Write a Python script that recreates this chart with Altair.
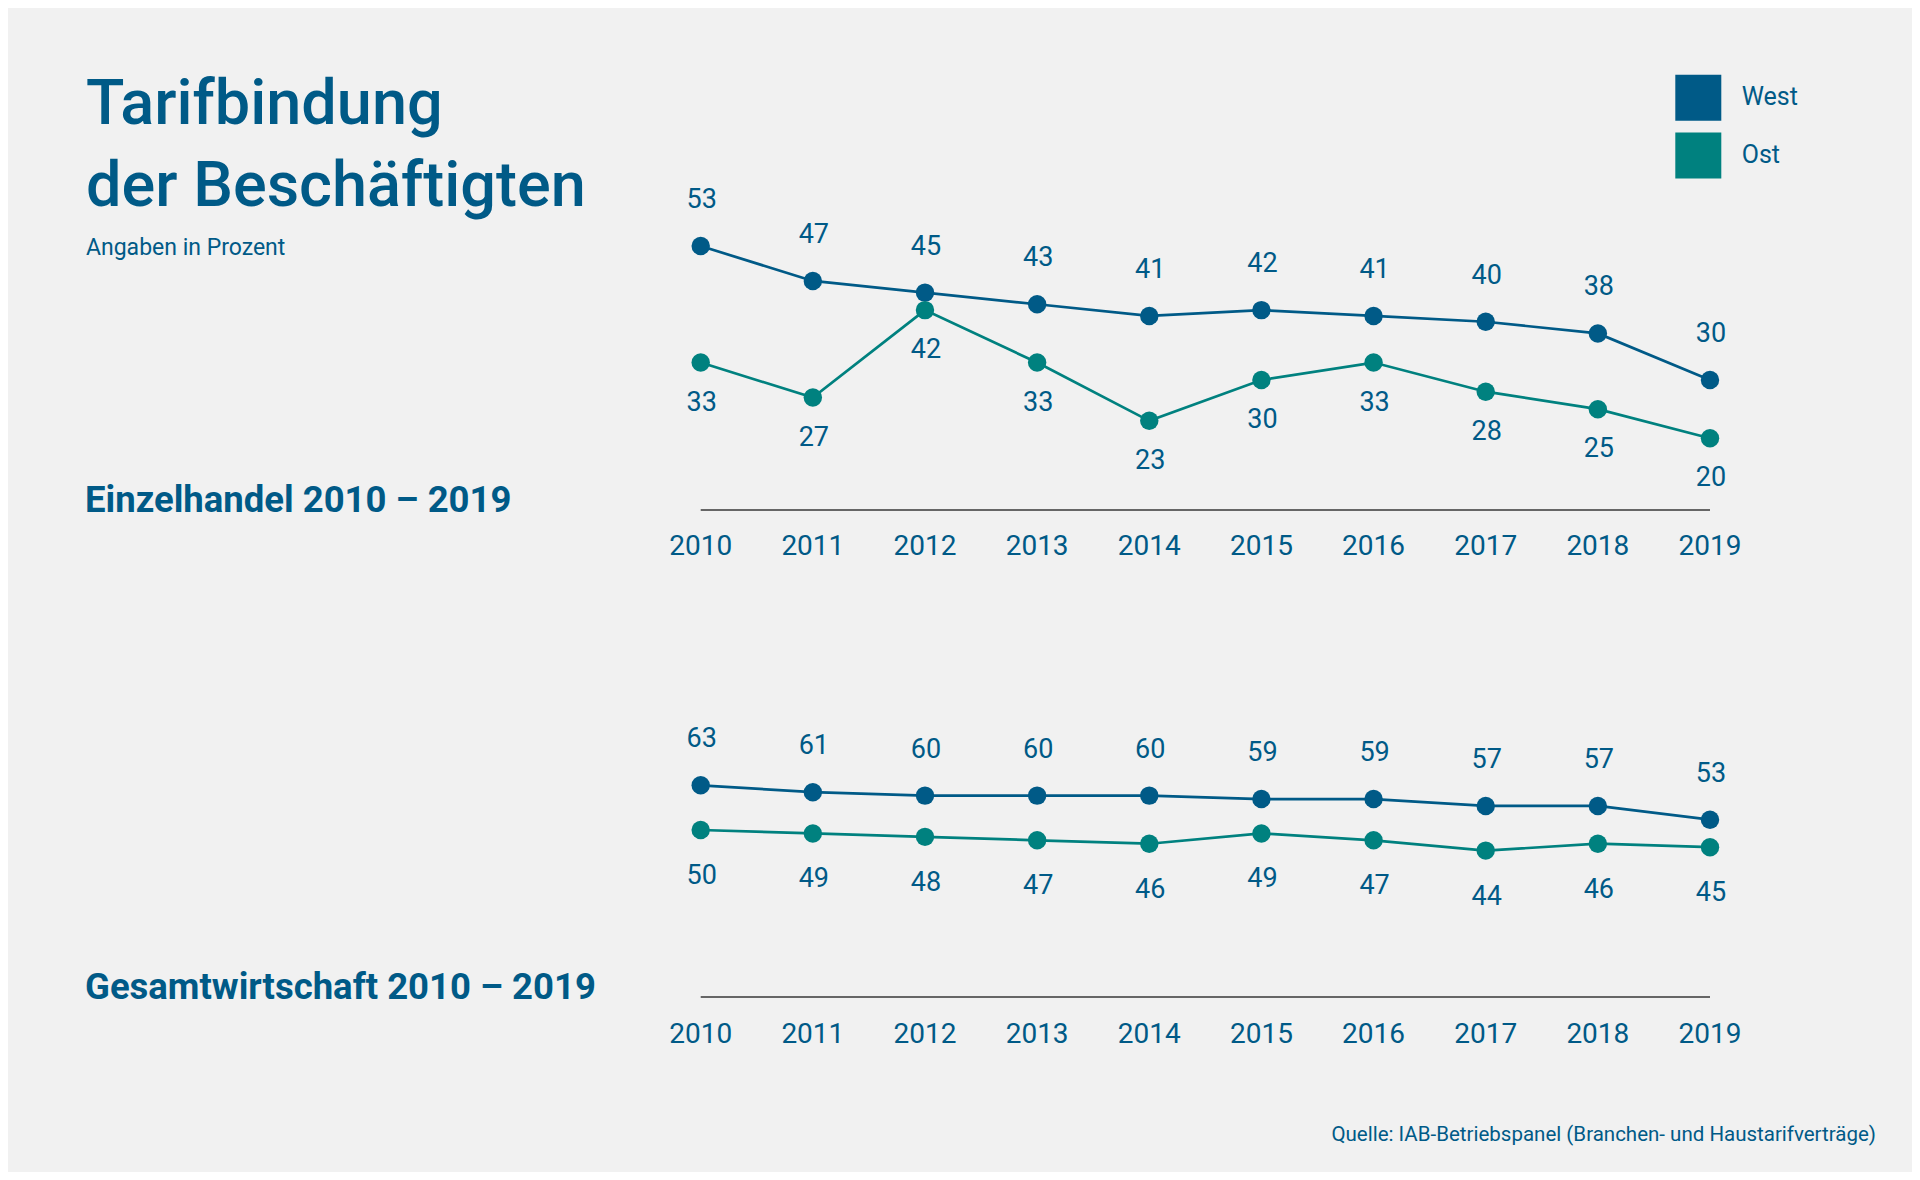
import altair as alt
import pandas as pd

# ---------------- data ----------------
years = [2010, 2011, 2012, 2013, 2014, 2015, 2016, 2017, 2018, 2019]
series_names = ["West", "Ost"]
einzel_west = [53, 47, 45, 43, 41, 42, 41, 40, 38, 30]
einzel_ost = [33, 27, 42, 33, 23, 30, 33, 28, 25, 20]
gesamt_west = [63, 61, 60, 60, 60, 59, 59, 57, 57, 53]
gesamt_ost = [50, 49, 48, 47, 46, 49, 47, 44, 46, 45]

title_text = "Tarifbindung\nder Beschäftigten"
subtitle_text = "Angaben in Prozent"
panel_labels = ["Einzelhandel 2010 – 2019", "Gesamtwirtschaft 2010 – 2019"]
source_text = "Quelle: IAB-Betriebspanel (Branchen- und Haustarifverträge)"

# ---------------- style ----------------
BLUE = "#005A87"
TEAL = "#00817F"
COLORS = [BLUE, TEAL]
BG = "#F1F1F1"
FONT = "Roboto"
W = 1904
H_TOP = 590
H_BOT = 574


def long_df(west, ost):
    rows = []
    for y, w, o in zip(years, west, ost):
        rows.append({"year": y, "series": "West", "value": w})
        rows.append({"year": y, "series": "Ost", "value": o})
    return pd.DataFrame(rows)


x_scale = alt.Scale(domain=[2010, 2019], range=[692.7, 1702])
col_scale = alt.Scale(domain=series_names, range=COLORS)


def text_layer(txt, x, y, size, weight="normal", align="left", baseline="alphabetic", **kw):
    return alt.Chart(pd.DataFrame({"t": [txt]})).mark_text(
        font=FONT, fontSize=size, fontWeight=weight, color=BLUE, align=align,
        baseline=baseline, **kw
    ).encode(x=alt.value(x), y=alt.value(y), text="t:N")


def legend_layers():
    out = []
    ys = [89.7, 147.5]
    for name, col, yy in zip(series_names, COLORS, ys):
        sq = alt.Chart(pd.DataFrame({"s": [name]})).mark_square(
            size=2116, opacity=1, color=col
        ).encode(x=alt.value(1690.3), y=alt.value(yy))
        out.append(sq)
        out.append(text_layer(name, 1733.7, yy - 1, 25, baseline="middle"))
    return out


def panel(west, ost, y_domain, y_range, ost_dy, west_dy, years_y, extras, height):
    df = long_df(west, ost)
    ysc = alt.Scale(domain=y_domain, range=y_range, zero=False, nice=False)
    base = alt.Chart(df)
    x = alt.X("year:Q", scale=x_scale, axis=None)
    y = alt.Y("value:Q", scale=ysc, axis=None)

    rule = alt.Chart(pd.DataFrame({"x0": [years[0]], "x1": [years[-1]], "v": [y_domain[0]]})).mark_rule(
        color="#666666", strokeWidth=2
    ).encode(
        x=alt.X("x0:Q", scale=x_scale, axis=None),
        x2="x1:Q",
        y=alt.Y("v:Q", scale=ysc, axis=None),
    )
    line = base.mark_line(strokeWidth=2.7).encode(
        x=x, y=y,
        stroke=alt.Stroke("series:N", scale=col_scale, legend=None),
        detail="series:N",
    )
    pts = base.mark_circle(size=340, opacity=1).encode(
        x=x, y=y,
        fill=alt.Fill("series:N", scale=col_scale, legend=None),
    )
    lbl_w = base.transform_filter(alt.datum.series == "West").mark_text(
        font=FONT, fontSize=27, color=BLUE, baseline="middle", dy=west_dy, dx=1
    ).encode(x=x, y=y, text="value:Q")
    lbl_o = base.transform_filter(alt.datum.series == "Ost").mark_text(
        font=FONT, fontSize=27, color=BLUE, baseline="middle", dy=ost_dy, dx=1
    ).encode(x=x, y=y, text="value:Q")
    yr = alt.Chart(pd.DataFrame({"year": years})).mark_text(
        font=FONT, fontSize=28, color=BLUE, baseline="middle", dx=0
    ).encode(x=x, y=alt.value(years_y), text="year:O")
    return alt.layer(rule, line, pts, lbl_w, lbl_o, yr, *extras).properties(width=W, height=height)


top_extras = [
    text_layer(title_text, 78, 116, 63, weight=500, lineBreak="\n", lineHeight=82),
    text_layer(subtitle_text, 78, 247, 23),
    text_layer(panel_labels[0], 77, 504, 36.5, weight="bold"),
] + legend_layers()
bot_extras = [
    text_layer(panel_labels[1], 77, 401, 36.5, weight="bold"),
    text_layer(source_text, 1868, 537, 20.5, align="right", baseline="middle"),
]

top = panel(einzel_west, einzel_ost, [7.7, 53], [502, 238], 40, -46, 539, top_extras, H_TOP)
bottom = panel(gesamt_west, gesamt_ost, [1.4, 63], [399, 187.3], 46, -46, 437, bot_extras, H_BOT)

chart = alt.vconcat(top, bottom, spacing=0, bounds="flush").resolve_scale(
    y="independent"
).properties(
    background=BG, padding=0,
).configure_view(stroke=None)

chart.save("out.html", embed_options={"renderer": "svg", "actions": False})
